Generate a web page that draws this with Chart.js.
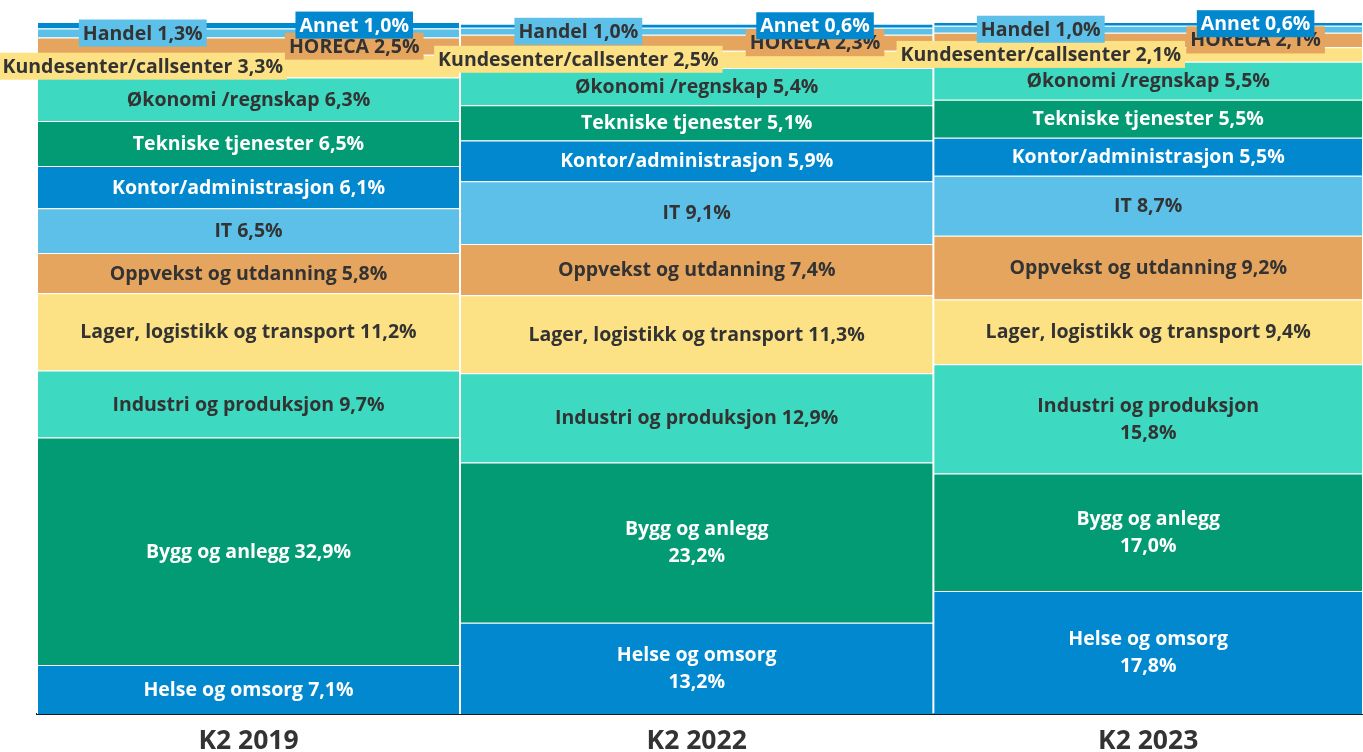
<!DOCTYPE html>
<html lang="no">
<head>
<meta charset="utf-8">
<title>Stillingsannonser etter yrke</title>
<script src="https://cdn.jsdelivr.net/npm/chart.js@4/dist/chart.umd.min.js"></script>
<style>
    html, body { margin: 0; padding: 0; background: #fff; }
    #wrap { position: relative; width: 1363px; height: 752px; }
</style>
</head>
<body>
<div id="wrap"><canvas id="chart"></canvas></div>
<script>
// Data (percent share per quarter, bottom to top)
const periods = ['K2 2019', 'K2 2022', 'K2 2023'];
const periodWidth = [31.9, 35.7, 32.4]; // relative column width (mekko)

const helse       = [7.1, 13.2, 17.8];
const bygg        = [32.9, 23.2, 17.0];
const industri    = [9.7, 12.9, 15.8];
const lager       = [11.2, 11.3, 9.4];
const oppvekst    = [5.8, 7.4, 9.2];
const it          = [6.5, 9.1, 8.7];
const kontor      = [6.1, 5.9, 5.5];
const tekniske    = [6.5, 5.1, 5.5];
const okonomi     = [6.3, 5.4, 5.5];
const kundesenter = [3.3, 2.5, 2.1];
const horeca      = [2.5, 2.3, 2.1];
const handel      = [1.3, 1.0, 1.0];
const annet       = [1.0, 0.6, 0.6];

const seriesNames = [
    'Helse og omsorg', 'Bygg og anlegg', 'Industri og produksjon',
    'Lager, logistikk og transport', 'Oppvekst og utdanning', 'IT',
    'Kontor/administrasjon', 'Tekniske tjenester', 'Økonomi /regnskap',
    'Kundesenter/callsenter', 'HORECA', 'Handel', 'Annet'
];
const seriesValues = [helse, bygg, industri, lager, oppvekst, it, kontor,
    tekniske, okonomi, kundesenter, horeca, handel, annet];

// Styling
const BLUE = '#0288CF', GREEN = '#039B73', TURQ = '#3DD9C1',
      YELLOW = '#FCE185', ORANGE = '#E5A55E', LIGHTBLUE = '#5CC0E8';
const DARK = '#333333', WHITE = '#ffffff';
const FONT = '"Open Sans", "Noto Sans", sans-serif';

const fills = [BLUE, GREEN, TURQ, YELLOW, ORANGE, LIGHTBLUE, BLUE, GREEN,
    TURQ, YELLOW, ORANGE, LIGHTBLUE, BLUE];
const textColors = fills.map(c => (c === BLUE || c === GREEN) ? WHITE : DARK);

// small segments get a boxed label pushed left (-1) or right (+1)
const boxShift = { 'Kundesenter/callsenter': -1, 'HORECA': 1, 'Handel': -1, 'Annet': 1 };
const twoLine = {
    'K2 2022': ['Helse og omsorg', 'Bygg og anlegg'],
    'K2 2023': ['Helse og omsorg', 'Bygg og anlegg', 'Industri og produksjon']
};

const starts = [];
periodWidth.reduce((acc, w) => { starts.push(acc); return acc + w; }, 0);
const centers = starts.map((s, i) => s + periodWidth[i] / 2);

function pct(v) {
    return v.toFixed(1).replace('.', ',') + '%';
}

// stretch each column to its mekko width on the linear x scale
const mekkoWidths = {
    id: 'mekkoWidths',
    afterDatasetsUpdate(chart) {
        const x = chart.scales.x;
        chart.data.datasets.forEach((ds, i) => {
            chart.getDatasetMeta(i).data.forEach((bar, j) => {
                const left = x.getPixelForValue(starts[j]);
                const right = x.getPixelForValue(starts[j] + periodWidth[j]);
                bar.x = (left + right) / 2;
                bar.width = right - left;
            });
        });
    }
};

const segmentLabels = {
    id: 'segmentLabels',
    afterDatasetsDraw(chart) {
        const ctx = chart.ctx;
        ctx.save();
        ctx.font = 'bold 19.5px ' + FONT;
        ctx.textAlign = 'center';
        ctx.textBaseline = 'middle';
        chart.data.datasets.forEach((ds, i) => {
            const name = seriesNames[i];
            chart.getDatasetMeta(i).data.forEach((bar, j) => {
                const value = seriesValues[i][j];
                const yMid = (bar.y + bar.base) / 2;
                const shift = boxShift[name];
                if (shift) {
                    const text = name + ' ' + pct(value);
                    const w = ctx.measureText(text).width + 8;
                    const cx = bar.x + shift * bar.width * 0.25;
                    ctx.fillStyle = fills[i];
                    ctx.fillRect(cx - w / 2, yMid - 13.5, w, 27);
                    ctx.fillStyle = textColors[i];
                    ctx.fillText(text, cx, yMid + 1);
                    return;
                }
                ctx.fillStyle = textColors[i];
                const split = (twoLine[periods[j]] || []).includes(name);
                if (split) {
                    ctx.fillText(name, bar.x, yMid - 13);
                    ctx.fillText(pct(value), bar.x, yMid + 14);
                } else {
                    ctx.fillText(name + ' ' + pct(value), bar.x, yMid + 1);
                }
            });
        });
        ctx.restore();
    }
};

const datasets = seriesNames.map((name, i) => ({
    label: name,
    data: seriesValues[i].map((v, j) => ({ x: centers[j], y: v })),
    backgroundColor: fills[i],
    borderColor: WHITE,
    borderWidth: 1,
    borderSkipped: 'start'
}));

function draw() {
    new Chart(document.getElementById('chart').getContext('2d'), {
        type: 'bar',
        data: { datasets: datasets },
        options: {
            responsive: true,
            maintainAspectRatio: false,
            animation: false,
            layout: { padding: { left: 37, right: 0, top: 23, bottom: 0 } },
            plugins: {
                legend: { display: false },
                tooltip: { enabled: false }
            },
            scales: {
                x: {
                    type: 'linear',
                    offset: false,
                    min: 0,
                    max: 100,
                    stacked: true,
                    grid: { display: false, drawTicks: false },
                    border: { display: true, color: '#1a1a1a', width: 2 },
                    afterBuildTicks: s => { s.ticks = centers.map(v => ({ value: v })); },
                    afterFit: s => { s.height = 38; },
                    ticks: {
                        autoSkip: false,
                        maxRotation: 0,
                        padding: 14,
                        color: DARK,
                        font: { family: FONT, size: 26.5, weight: 'bold', lineHeight: 1 },
                        callback: (v, idx) => periods[idx]
                    }
                },
                y: {
                    display: false,
                    stacked: true,
                    min: 0,
                    max: 100
                }
            }
        },
        plugins: [mekkoWidths, segmentLabels]
    });
}

document.fonts.load('bold 19.5px "Open Sans"').then(draw, draw);
</script>
</body>
</html>
